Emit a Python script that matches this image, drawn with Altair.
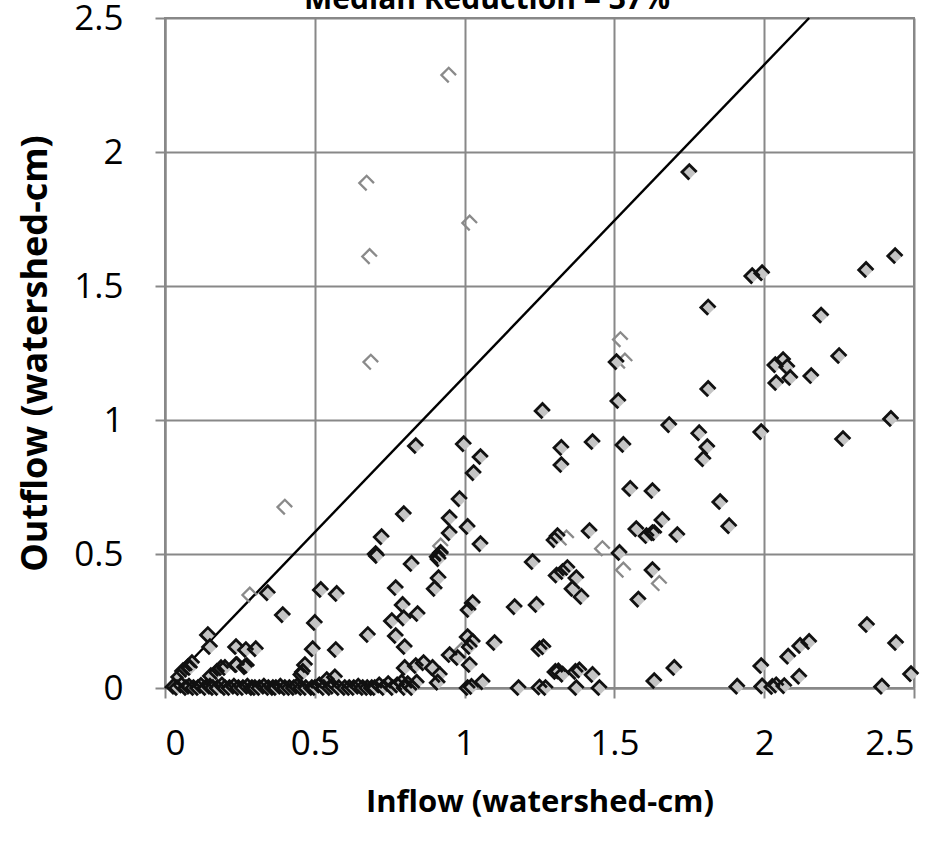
import altair as alt
import pandas as pd

# ---- data ----
filled_x = [
    1.75, 1.96, 1.993, 2.34, 2.437, 1.813, 2.19, 2.037, 2.063, 2.077, 2.087, 2.04, 2.157, 2.25,
    1.813, 1.683, 1.783, 1.81, 1.797, 1.99, 2.423, 2.263, 1.627, 1.853, 1.66, 1.627, 1.71, 1.883,
    1.627, 2.343, 2.44, 2.49, 1.70, 1.633, 1.91, 1.99, 1.993, 2.027, 2.04, 2.067, 2.08, 2.12, 2.15,
    2.117, 2.393,
    1.26, 1.513, 1.507, 0.837, 0.997, 1.053, 1.03, 1.323, 1.323, 1.427, 1.53, 0.983, 0.797, 0.95,
    0.95, 1.01, 1.053, 0.92, 0.913, 0.823, 1.31, 1.30, 1.417, 1.517, 1.553, 1.573, 1.607, 1.633,
    1.227, 0.913, 1.307, 1.327, 1.343, 1.373,
    0.343, 0.52, 0.573, 0.393, 0.50, 0.143, 0.15, 0.237, 0.27, 0.303, 0.237, 0.273, 0.187, 0.173,
    0.153, 0.09, 0.077, 0.06, 0.047, 0.493, 0.57, 0.467, 0.46, 0.677, 0.77, 0.703, 0.707, 0.91,
    0.92, 0.90, 0.793, 0.797, 0.843, 0.757, 0.77, 0.80, 0.80, 0.837, 0.863, 0.893, 0.917, 0.95,
    0.977, 1.01, 1.027, 1.013, 1.027, 1.017, 1.023, 1.06, 1.10, 1.017, 0.723,
    1.167, 1.24, 1.25, 1.263, 1.303, 1.313, 1.327, 1.37, 1.383, 1.427, 1.45, 1.373, 1.27, 1.25,
    1.18, 1.36, 1.39, 1.58, 0.083, 0.2, 0.24, 0.267, 0.455, 0.567, 0.54, 0.91, 1.01,
    # dense row along the x axis
    0.03, 0.04, 0.055, 0.07, 0.08, 0.095, 0.11, 0.12, 0.135, 0.15, 0.16, 0.175, 0.19, 0.2,
    0.215, 0.23, 0.245, 0.26, 0.275, 0.29, 0.3, 0.315, 0.33, 0.345, 0.36, 0.37, 0.385, 0.4,
    0.415, 0.43, 0.44, 0.455, 0.47, 0.49, 0.5, 0.515, 0.53, 0.55, 0.56, 0.58, 0.6, 0.615,
    0.63, 0.645, 0.66, 0.675, 0.69, 0.7, 0.715, 0.73, 0.745, 0.76, 0.775, 0.79, 0.8, 0.81,
    0.825, 0.84,
]
filled_y = [
    1.925, 1.537, 1.548, 1.56, 1.612, 1.42, 1.39, 1.205, 1.224, 1.198, 1.157, 1.138, 1.164, 1.239,
    1.116, 0.981, 0.951, 0.899, 0.854, 0.955, 1.004, 0.929, 0.735, 0.694, 0.627, 0.578, 0.571, 0.604,
    0.44, 0.235, 0.168, 0.052, 0.075, 0.026, 0.005, 0.082, 0.006, 0.004, 0.01, 0.007, 0.117, 0.157, 0.172,
    0.042, 0.005,
    1.034, 1.071, 1.216, 0.903, 0.91, 0.862, 0.802, 0.896, 0.832, 0.918, 0.907, 0.705, 0.649, 0.634,
    0.578, 0.601, 0.537, 0.504, 0.481, 0.463, 0.567, 0.552, 0.586, 0.504, 0.743, 0.593, 0.567, 0.578,
    0.47, 0.41, 0.42, 0.433, 0.448, 0.41,
    0.354, 0.366, 0.351, 0.272, 0.243, 0.198, 0.153, 0.153, 0.142, 0.145, 0.086, 0.082, 0.074, 0.06,
    0.045, 0.093, 0.078, 0.063, 0.041, 0.145, 0.142, 0.086, 0.06, 0.198, 0.373, 0.5, 0.493, 0.49,
    0.5, 0.37, 0.31, 0.26, 0.276, 0.25, 0.194, 0.153, 0.075, 0.082, 0.093, 0.075, 0.049, 0.123,
    0.112, 0.19, 0.172, 0.291, 0.317, 0.153, 0.004, 0.022, 0.168, 0.086, 0.563,
    0.302, 0.31, 0.145, 0.152, 0.06, 0.062, 0.05, 0.06, 0.066, 0.049, 0.0, 0.0, 0.0, 0.002,
    0.0, 0.37, 0.34, 0.33, 0.075, 0.075, 0.086, 0.078, 0.05, 0.04, 0.03, 0.02, 0.0,
    0.005, 0.0, 0.01, 0.0, 0.005, 0.0, 0.0, 0.008, 0.0, 0.005, 0.0, 0.0, 0.01, 0.0,
    0.0, 0.005, 0.0, 0.0, 0.005, 0.0, 0.0, 0.0, 0.005, 0.0, 0.0, 0.0, 0.005, 0.0,
    0.0, 0.0, 0.005, 0.0, 0.0, 0.0, 0.0, 0.01, 0.0, 0.0, 0.005, 0.0, 0.0, 0.0,
    0.0, 0.005, 0.0, 0.0, 0.0, 0.0, 0.01, 0.0, 0.015, 0.0, 0.01, 0.02, 0.0, 0.015,
    0.0, 0.02,
]
open_x = [0.947, 0.673, 1.017, 0.683, 0.687, 0.40, 0.283, 0.92, 1.34, 1.46, 1.53, 1.65, 1.52, 1.535, 0.99]
open_y = [2.287, 1.884, 1.735, 1.61, 1.216, 0.675, 0.347, 0.53, 0.56, 0.52, 0.44, 0.39, 1.30, 1.22, 0.14]
ref_x = [0.0, 2.15]
ref_y = [0.0, 2.5]
tick_values = [0, 0.5, 1, 1.5, 2, 2.5]
title_text = ["Median Reduction = 37%"]

filled = pd.DataFrame({"inflow": filled_x, "outflow": filled_y})
hollow = pd.DataFrame({"inflow": open_x, "outflow": open_y})
ref = pd.DataFrame({"inflow": ref_x, "outflow": ref_y})
title_df = pd.DataFrame({"t": title_text})

GRID = "#888888"
EDGE_PATH = "M0,1L-1,0L0,-1L1,0"
MSIZE = 215

xenc = alt.X("inflow:Q", scale=alt.Scale(domain=[0, 2.5], nice=False),
             axis=alt.Axis(values=tick_values, format="~g", title="Inflow (watershed-cm)",
                           titleBaseline="middle", titleY=114, titleFontSize=31,
                           labelPadding=28))
yenc = alt.Y("outflow:Q", scale=alt.Scale(domain=[0, 2.5], nice=False),
             axis=alt.Axis(values=tick_values, format="~g", title="Outflow (watershed-cm)",
                           titleBaseline="middle", titleX=-130, titleFontSize=36,
                           labelPadding=32))

line = alt.Chart(ref).mark_line(color="black", strokeWidth=2.4).encode(x=xenc, y=yenc)

fill_layer = alt.Chart(filled).mark_point(
    shape="diamond", filled=True, color="#c4c4c4", opacity=1, size=MSIZE, strokeWidth=0
).encode(x="inflow:Q", y="outflow:Q")

edge_layer = alt.Chart(filled).mark_point(
    shape=EDGE_PATH, filled=False, color="#111111", opacity=1, size=MSIZE, strokeWidth=2.8
).encode(x="inflow:Q", y="outflow:Q")

open_layer = alt.Chart(hollow).mark_point(
    shape=EDGE_PATH, filled=False, color="#8a8a8a", opacity=1, size=MSIZE, strokeWidth=2.3
).encode(x="inflow:Q", y="outflow:Q")

title_layer = alt.Chart(title_df).mark_text(
    font="Open Sans", fontSize=30, fontWeight="bold", color="black",
    align="center", baseline="alphabetic"
).encode(x=alt.value(322), y=alt.value(-9), text="t:N")

chart = alt.layer(line, open_layer, fill_layer, edge_layer, title_layer).properties(
    width=749,
    height=670,
    padding={"left": 165, "top": 18, "right": 29, "bottom": 158},
    autosize=alt.AutoSizeParams(type="none"),
).configure_view(
    stroke=GRID, strokeWidth=2
).configure_axis(
    gridColor=GRID, gridWidth=2, gridOpacity=1,
    domainColor=GRID, domainWidth=2,
    tickColor=GRID, tickWidth=2, tickSize=10,
    labelFont="Open Sans", labelFontSize=35, labelColor="black",
    titleFont="Open Sans", titleFontWeight="bold", titleColor="black",
)

chart.save("out.html", embed_options={"renderer": "svg", "actions": False})
